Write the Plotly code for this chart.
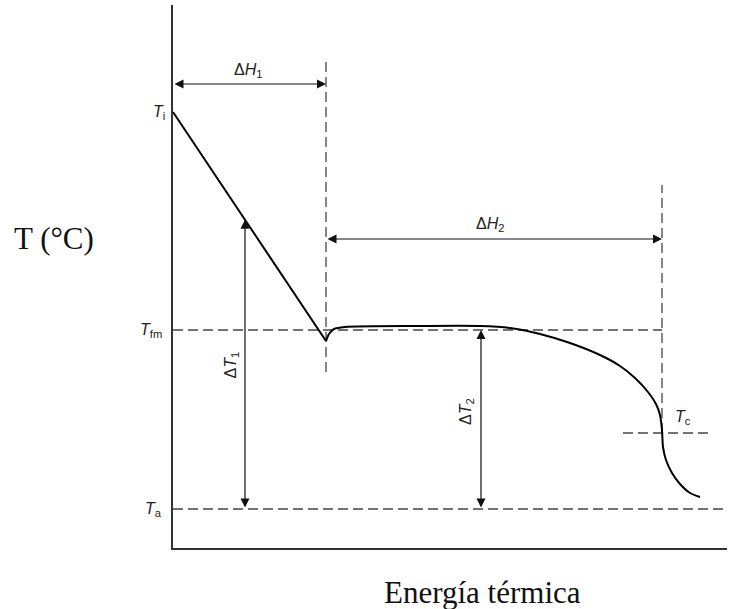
import plotly.graph_objects as go

# Characteristic temperatures (arbitrary units, upward = hotter)
T_i = 436    # initial pouring temperature
T_fm = 218   # freezing / melting temperature
T_c = 115    # end-of-solidification temperature
T_a = 39     # ambient temperature

# Thermal-energy extracted (arbitrary units)
E_liquid_end = 153   # end of liquid cooling (ΔH1)
E_solid_end = 489    # end of solidification (ΔH2)

# Liquid cooling segment
liquid_E = [0, 153]
liquid_T = [436, 207]

# Undercooling recovery, plateau and solid cooling
solid_E = [153, 156, 161, 172, 247, 307, 337, 367, 397, 427, 447, 462, 475, 483,
           487, 489, 490, 493, 499, 507, 517, 527]
solid_T = [207, 214, 219, 221, 222, 222, 220, 214, 205, 193, 182, 170, 156, 144,
           133, 118, 101, 88, 75, 64, 55, 51]

# Arrow positions
dH1_level = 464
dH2_level = 309
dT1_E = 72
dT2_E = 308

# Extent of guide lines
vline1_T = (176, 488)
vline2_T = (T_c, 363)
Tc_line_E = (450, 537)
E_max = 554
T_max = 543

DASH = dict(color="#444", width=1.3, dash="10px,5px")
LABEL_FONT = dict(family="Liberation Sans, Arial, sans-serif", size=16, color="#222")
TITLE_FONT = dict(family="Liberation Serif, Times New Roman, serif", size=31, color="#111")

fig = go.Figure()

# Dashed reference lines
fig.add_trace(go.Scatter(x=[0, E_solid_end], y=[T_fm, T_fm], mode="lines", line=DASH,
                         hoverinfo="skip"))
fig.add_trace(go.Scatter(x=[0, E_max], y=[T_a, T_a], mode="lines", line=DASH,
                         hoverinfo="skip"))
fig.add_trace(go.Scatter(x=list(Tc_line_E), y=[T_c, T_c], mode="lines", line=DASH,
                         hoverinfo="skip"))
fig.add_trace(go.Scatter(x=[E_liquid_end, E_liquid_end], y=list(vline1_T), mode="lines",
                         line=DASH, hoverinfo="skip"))
fig.add_trace(go.Scatter(x=[E_solid_end, E_solid_end], y=list(vline2_T), mode="lines",
                         line=DASH, hoverinfo="skip"))

# Cooling curve
fig.add_trace(go.Scatter(x=liquid_E, y=liquid_T, mode="lines",
                         line=dict(color="black", width=2), hoverinfo="skip"))
fig.add_trace(go.Scatter(x=solid_E, y=solid_T, mode="lines",
                         line=dict(color="black", width=2, shape="spline", smoothing=0.8),
                         hoverinfo="skip"))


def double_arrow(x0, y0, x1, y1):
    fig.add_annotation(x=x1, y=y1, ax=x0, ay=y0, xref="x", yref="y", axref="x", ayref="y",
                       text="", showarrow=True, arrowhead=2, startarrowhead=2,
                       arrowside="end+start", arrowsize=1.5, startarrowsize=1.5,
                       arrowwidth=1.2, arrowcolor="#111", standoff=0, startstandoff=0)


# ΔT1 tip sits on the liquid cooling line
slope = (liquid_T[1] - liquid_T[0]) / (liquid_E[1] - liquid_E[0])
dT1_top = liquid_T[0] + slope * dT1_E

double_arrow(0, dH1_level, E_liquid_end, dH1_level)
double_arrow(E_liquid_end, dH2_level, E_solid_end, dH2_level)
double_arrow(dT1_E, T_a, dT1_E, dT1_top)
double_arrow(dT2_E, T_a, dT2_E, T_fm)


def px(E):
    return E / E_max


def py(T):
    return T / T_max


# Labels placed in paper coordinates so those left of the axis stay visible
labels = [
    dict(x=px(-6), y=py(T_i), text="<i>T</i><sub>i</sub>", xanchor="right"),
    dict(x=px(-9), y=py(T_fm), text="<i>T</i><sub>fm</sub>", xanchor="right"),
    dict(x=px(-9), y=py(T_a), text="<i>T</i><sub>a</sub>", xanchor="right"),
    dict(x=px(510), y=py(130), text="<i>T</i><sub>c</sub>", xanchor="center"),
    dict(x=px(75), y=py(478), text="Δ<i>H</i><sub>1</sub>", xanchor="center"),
    dict(x=px(317), y=py(323), text="Δ<i>H</i><sub>2</sub>", xanchor="center"),
]
for lab in labels:
    fig.add_annotation(xref="paper", yref="paper", showarrow=False, yanchor="middle",
                       font=LABEL_FONT, **lab)

fig.add_annotation(x=px(dT1_E - 3), y=py(183), xref="paper", yref="paper",
                   text="Δ<i>T</i><sub>1</sub>", showarrow=False, textangle=-90,
                   font=LABEL_FONT, xanchor="right")
fig.add_annotation(x=px(dT2_E - 3), y=py(121), xref="paper", yref="paper",
                   text="Δ<i>T</i><sub>2</sub>", showarrow=False, textangle=-90,
                   font=LABEL_FONT, xanchor="right")

# Axis titles
fig.add_annotation(x=px(-119.5), y=py(310), xref="paper", yref="paper", text="T (°C)",
                   showarrow=False, font=TITLE_FONT, xanchor="center", yanchor="middle")
fig.add_annotation(x=px(309), y=py(-44), xref="paper", yref="paper",
                   text="Energía térmica", showarrow=False, font=TITLE_FONT,
                   xanchor="center", yanchor="middle")

axis_common = dict(showgrid=False, zeroline=False, showticklabels=False, ticks="",
                   showline=True, linecolor="#333", linewidth=1.5, fixedrange=True)
fig.update_xaxes(range=[0, E_max], **axis_common)
fig.update_yaxes(range=[0, T_max], **axis_common)

fig.update_layout(width=742, height=609, showlegend=False,
                  margin=dict(l=173, r=15, t=5, b=61),
                  plot_bgcolor="white", paper_bgcolor="white")

fig.write_html("out.html")
